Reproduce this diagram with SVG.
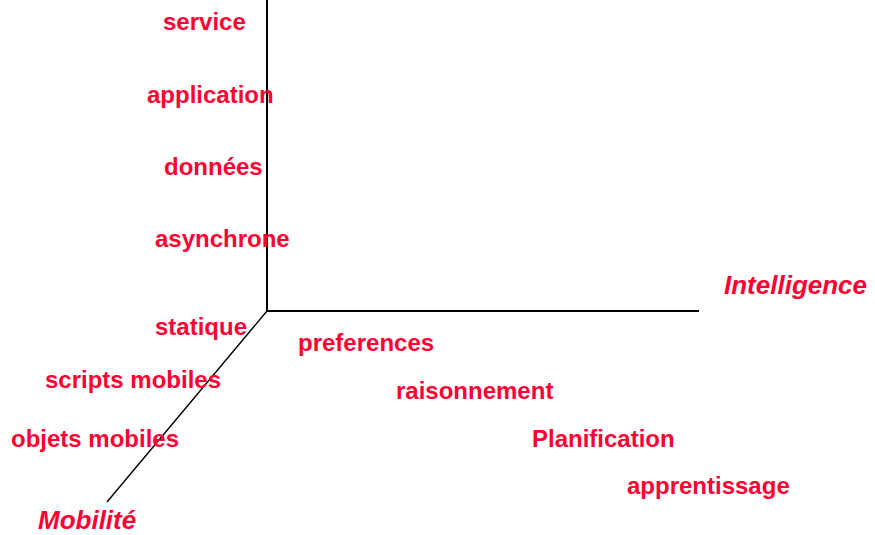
<svg xmlns="http://www.w3.org/2000/svg" width="875" height="535" viewBox="0 0 875 535">
<style>
.lbl{font-family:"Liberation Sans",Arial,sans-serif;font-weight:bold;font-size:24px;fill:#ff0033}
.axis{font-family:"Liberation Sans",Arial,sans-serif;font-weight:bold;font-style:italic;font-size:26px;fill:#ff0033}
.ax{stroke:#000;fill:none}
</style>
<rect width="875" height="535" fill="#fff"/>
<g id="axes">
<line class="ax" x1="267" y1="0" x2="267" y2="311" stroke-width="2"/>
<line class="ax" x1="266" y1="311" x2="699" y2="311" stroke-width="2"/>
<line class="ax" x1="267" y1="311" x2="107" y2="502" stroke-width="1.4"/>
</g>
<g id="service"><text class="lbl" x="163" y="30">service</text></g>
<g id="application"><text class="lbl" x="147" y="103">application</text></g>
<g id="donnees"><text class="lbl" x="164" y="175">données</text></g>
<g id="asynchrone"><text class="lbl" x="155" y="247">asynchrone</text></g>
<g id="statique"><text class="lbl" x="155" y="335">statique</text></g>
<g id="scripts-mobiles"><text class="lbl" x="45" y="388">scripts mobiles</text></g>
<g id="objets-mobiles"><text class="lbl" x="11" y="447">objets mobiles</text></g>
<g id="mobilite"><text class="axis" x="38" y="529">Mobilité</text></g>
<g id="intelligence"><text class="axis" x="724" y="294">Intelligence</text></g>
<g id="preferences"><text class="lbl" x="298" y="351">preferences</text></g>
<g id="raisonnement"><text class="lbl" x="396" y="399">raisonnement</text></g>
<g id="planification"><text class="lbl" x="532" y="447">Planification</text></g>
<g id="apprentissage"><text class="lbl" x="627" y="494">apprentissage</text></g>
</svg>
